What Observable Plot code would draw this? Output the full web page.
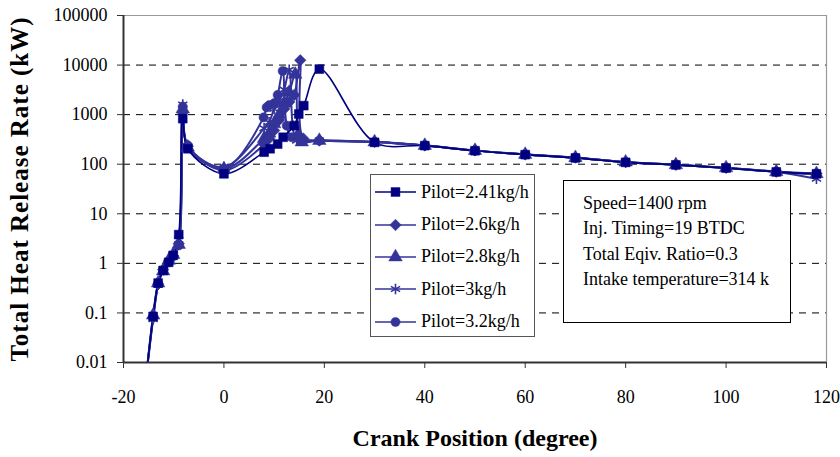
<!DOCTYPE html>
<html>
<head>
<meta charset="utf-8">
<script src="https://cdn.jsdelivr.net/npm/d3@7"></script>
<script src="https://cdn.jsdelivr.net/npm/@observablehq/plot@0.6"></script>
<style>
  html, body { margin: 0; padding: 0; background: #fff; }
  #wrap { position: relative; width: 840px; height: 457px; font-family: "Liberation Serif", "Times New Roman", serif; }
  #wrap svg text { font-family: "Liberation Serif", "Times New Roman", serif; }
  g[aria-label="x-axis label"] text { font-weight: bold; font-size: 24px; }
  g[aria-label="y-axis label"] text { font-weight: bold; font-size: 25px; letter-spacing: 1px; }
  #legend { position: absolute; left: 370px; top: 174px; width: 165px; height: 163px; border: 1px solid #555; background: #fff; box-sizing: border-box; padding-top: 1px; }
  #legend .row { height: 32.4px; display: flex; align-items: center; font-size: 18px; color: #000; white-space: nowrap; }
  #legend svg { display: block; margin-left: 4px; margin-right: 5px; }
  #note { position: absolute; left: 563px; top: 180px; width: 228px; height: 143px; border: 1.5px solid #000; background: #fff; box-sizing: border-box; padding: 10px 0 0 19px; font-size: 18px; line-height: 25.4px; color: #000; white-space: nowrap; }
</style>
</head>
<body>
<div id="wrap"></div>
<script>
// ---- data ----
const seriesNames = ["Pilot=2.41kg/h", "Pilot=2.6kg/h", "Pilot=2.8kg/h", "Pilot=3kg/h", "Pilot=3.2kg/h"];

const crank241 = [-15.5, -14.1, -13.1, -12.1, -11, -10.1, -9, -8.2, -7.2, 0, 8, 9.2, 10.7, 11.8, 14, 14.9, 15.9, 19, 30, 40, 50, 60, 70, 80, 90, 100, 110, 118];
const hrr241   = [0.005, 0.085, 0.40, 0.72, 1.05, 1.45, 3.8, 830, 205, 64, 175, 205, 255, 350, 600, 1030, 1520, 8300, 276, 237, 187, 156, 134, 109, 97, 84, 70, 64];

const crank26 = [-15.5, -14.1, -13.1, -12.1, -11, -10.1, -9, -8.2, -7.2, 0, 8, 9, 10, 11, 12, 13, 14, 15.2, 15.8, 19, 30, 40, 50, 60, 70, 80, 90, 100, 110, 118];
const hrr26   = [0.005, 0.08, 0.38, 0.75, 1.1, 1.4, 2.5, 1100, 230, 75, 250, 330, 480, 780, 1300, 1800, 2500, 12500, 330, 300, 285, 240, 190, 158, 136, 111, 98, 85, 71, 65];

const crank28 = [-15.5, -14.1, -13.1, -12.1, -11, -10.1, -9, -8.2, -7.2, 0, 8, 9, 10, 11, 12, 13, 14.2, 14.8, 15.5, 19, 30, 40, 50, 60, 70, 80, 90, 100, 110, 118];
const hrr28   = [0.005, 0.09, 0.40, 0.70, 1.15, 1.5, 2.4, 1300, 220, 80, 330, 420, 650, 1000, 1700, 2800, 6500, 400, 280, 300, 280, 238, 188, 157, 135, 110, 97, 84, 70, 64];

const crank3 = [-15.5, -14.1, -13.1, -12.1, -11, -10.1, -9, -8.2, -7.2, 0, 8, 9, 10, 11, 12, 13, 13.7, 14.5, 19, 30, 40, 50, 60, 70, 80, 90, 100, 110, 118];
const hrr3   = [0.005, 0.075, 0.37, 0.75, 1.1, 1.5, 3.0, 1600, 230, 88, 530, 700, 1300, 1900, 3200, 8000, 600, 300, 300, 280, 238, 188, 157, 135, 110, 97, 84, 70, 51];

const crank32 = [-15.5, -14.1, -13.1, -12.1, -11, -10.1, -9, -8.2, -7.2, 0, 7.9, 8.5, 9, 10, 10.7, 11.7, 12.5, 13.5, 19, 30, 40, 50, 60, 70, 80, 90, 100, 110, 118];
const hrr32   = [0.005, 0.085, 0.39, 0.73, 1.05, 1.4, 2.3, 1450, 240, 82, 880, 1400, 1550, 1700, 2500, 7600, 600, 350, 300, 280, 238, 188, 157, 135, 110, 97, 84, 70, 64];

const xTicks = [-20, 0, 20, 40, 60, 80, 100, 120];
const yTicks = [0.01, 0.1, 1, 10, 100, 1000, 10000, 100000];
const noteLines = ["Speed=1400 rpm", "Inj. Timing=19 BTDC", "Total Eqiv. Ratio=0.3", "Intake temperature=314 k"];

// ---- build table ----
const cranks = [crank241, crank26, crank28, crank3, crank32];
const hrrs = [hrr241, hrr26, hrr28, hrr3, hrr32];
const rows = [];
seriesNames.forEach((s, i) => cranks[i].forEach((c, j) => rows.push({series: s, crank: c, hrr: hrrs[i][j]})));

const colors = ["#000080", "#333399", "#333399", "#333399", "#333399"];
const symbols = ["square", "diamond2", "triangle", "asterisk", "circle"];
const radii = [5, 5.2, 5, 5, 4.6];
const drawOrder = [4, 3, 2, 1, 0];

const lineMarks = drawOrder.map(i => Plot.line(rows.filter(d => d.series === seriesNames[i]), {
  x: "crank", y: "hrr", stroke: colors[i], strokeWidth: i === 0 ? 1.6 : 2, curve: "catmull-rom", clip: true
}));
const dotMarks = drawOrder.map(i => Plot.dot(rows.filter(d => d.series === seriesNames[i] && d.hrr >= yTicks[0]), {
  x: "crank", y: "hrr", symbol: () => symbols[i], r: radii[i],
  fill: symbols[i] === "asterisk" ? "none" : colors[i],
  stroke: colors[i], strokeWidth: symbols[i] === "asterisk" ? 1.6 : 0.5
}));

const chart = Plot.plot({
  width: 840, height: 457,
  marginLeft: 123, marginRight: 14, marginTop: 15, marginBottom: 95,
  style: {fontFamily: "Liberation Serif, Times New Roman, serif", fontSize: "18px", color: "#000", background: "#fff", overflow: "visible"},
  symbol: {type: "identity"},
  x: {domain: [xTicks[0], xTicks[xTicks.length - 1]]},
  y: {type: "log", domain: [yTicks[0], yTicks[yTicks.length - 1]]},
  marks: [
    Plot.gridY(yTicks.slice(1, -1), {stroke: "#000", strokeOpacity: 1, strokeDasharray: "7,6", strokeWidth: 1}),
    Plot.ruleY([yTicks[yTicks.length - 1]], {stroke: "#999", strokeWidth: 1.2}),
    Plot.ruleX([xTicks[xTicks.length - 1]], {stroke: "#999", strokeWidth: 1.2}),
    Plot.axisX({ticks: xTicks, tickFormat: d => String(d), tickSize: 6, tickPadding: 22, stroke: "#333",
      label: "Crank Position (degree)", labelAnchor: "center", labelArrow: "none", labelOffset: 83}),
    Plot.axisY({ticks: yTicks, tickFormat: d => String(d), tickSize: 6, tickPadding: 10, stroke: "#333",
      label: "Total Heat Release Rate (kW)", labelAnchor: "center", labelArrow: "none", labelOffset: 113}),
    ...lineMarks,
    ...dotMarks,
    Plot.ruleX([xTicks[0]], {stroke: "#333", strokeWidth: 2}),
    Plot.ruleY([yTicks[0]], {stroke: "#333", strokeWidth: 2})
  ]
});

const wrap = document.getElementById("wrap");
wrap.appendChild(chart);

// legend
const legend = document.createElement("div");
legend.id = "legend";
const symMap = {square: d3.symbolSquare, diamond2: d3.symbolDiamond2, triangle: d3.symbolTriangle, asterisk: d3.symbolAsterisk, circle: d3.symbolCircle};
seriesNames.forEach((s, i) => {
  const row = document.createElement("div");
  row.className = "row";
  const svg = d3.create("svg").attr("width", 41).attr("height", 20);
  svg.append("line").attr("x1", 0).attr("x2", 41).attr("y1", 10).attr("y2", 10).attr("stroke", colors[i]).attr("stroke-width", 1.6);
  svg.append("path").attr("transform", "translate(20.5,10)")
    .attr("d", d3.symbol(symMap[symbols[i]], radii[i] * radii[i] * Math.PI)())
    .attr("fill", symbols[i] === "asterisk" ? "none" : colors[i])
    .attr("stroke", colors[i]).attr("stroke-width", symbols[i] === "asterisk" ? 1.6 : 0.5);
  row.appendChild(svg.node());
  const t = document.createElement("span");
  t.textContent = s;
  row.appendChild(t);
  legend.appendChild(row);
});
wrap.appendChild(legend);

// note box
const note = document.createElement("div");
note.id = "note";
noteLines.forEach(l => { const d = document.createElement("div"); d.textContent = l; note.appendChild(d); });
wrap.appendChild(note);
</script>
</body>
</html>
